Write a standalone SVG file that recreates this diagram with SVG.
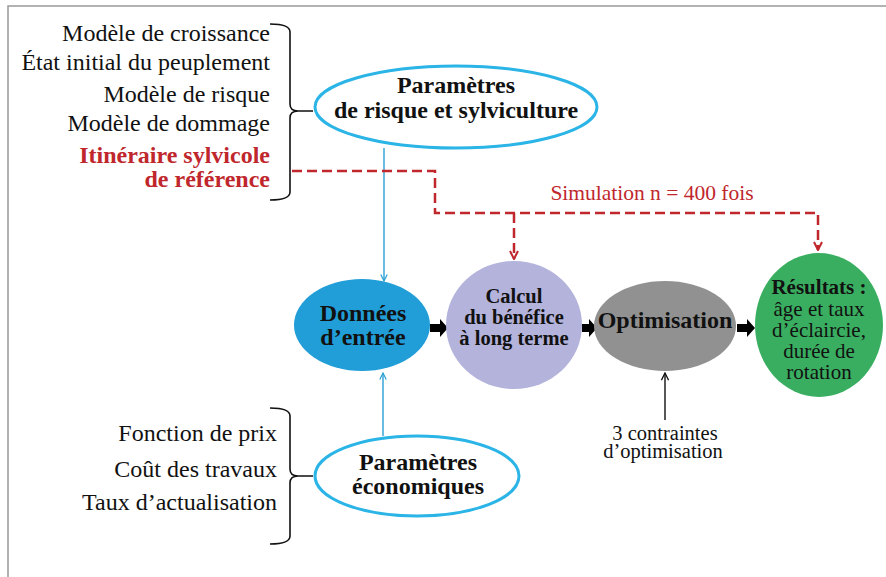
<svg xmlns="http://www.w3.org/2000/svg" width="886" height="577" viewBox="0 0 886 577">
<defs>
<style>
text{font-family:'Liberation Serif','Times New Roman',serif;fill:#111}
.lbl{font-size:24px;text-anchor:end}
.b{font-weight:bold;text-anchor:middle}
.m{text-anchor:middle}
.red{fill:#c0272d}
.brace{fill:none;stroke:#111;stroke-width:1.6}
.blue{stroke:#2a9fd6;stroke-width:1.4;fill:none}
.dash{stroke:#c0272d;stroke-width:2.5;fill:none;stroke-dasharray:10 5}
</style>
<marker id="ab" viewBox="0 0 10 10" refX="9" refY="5" markerWidth="8" markerHeight="8" orient="auto" markerUnits="userSpaceOnUse"><path d="M1,1 L9,5 L1,9" fill="none" stroke="#2a9fd6" stroke-width="1.5"/></marker>
<marker id="ar" viewBox="0 0 10 10" refX="9" refY="5" markerWidth="10" markerHeight="10" orient="auto" markerUnits="userSpaceOnUse"><path d="M1,1 L9,5 L1,9" fill="none" stroke="#c0272d" stroke-width="2"/></marker>
<marker id="ak" viewBox="0 0 10 10" refX="9" refY="5" markerWidth="9" markerHeight="9" orient="auto" markerUnits="userSpaceOnUse"><path d="M1,1 L9,5 L1,9" fill="none" stroke="#111" stroke-width="1.5"/></marker>
</defs>
<rect width="886" height="577" fill="#fff"/>
<path d="M8,600 L8,6 L900,6" fill="none" stroke="#999" stroke-width="1.5"/>

<g id="left-top-list">
<text class="lbl" x="270" y="41">Modèle de croissance</text>
<text class="lbl" x="270" y="70">État initial du peuplement</text>
<text class="lbl" x="270" y="102">Modèle de risque</text>
<text class="lbl" x="270" y="131">Modèle de dommage</text>
<text class="lbl red" x="270" y="163" font-weight="bold">Itinéraire sylvicole</text>
<text class="lbl red" x="270" y="187" font-weight="bold">de référence</text>
<path class="brace" d="M270,24 Q290,24 290,32 L290,104 Q290,111 298,111 L313,111 M298,111 Q290,111 290,118 L290,192 Q290,200 270,200"/>
</g>

<g id="left-bottom-list">
<text class="lbl" x="277" y="441">Fonction de prix</text>
<text class="lbl" x="277" y="477">Coût des travaux</text>
<text class="lbl" x="277" y="510">Taux d’actualisation</text>
<path class="brace" d="M270,408 Q290,408 290,416 L290,469 Q290,476 298,476 L313,476 M298,476 Q290,476 290,483 L290,536 Q290,544 270,544"/>
</g>

<g id="connectors">
<line class="blue" x1="384" y1="148" x2="384" y2="281" marker-end="url(#ab)"/>
<line class="blue" x1="383" y1="436" x2="383" y2="373" marker-end="url(#ab)"/>
<path class="dash" d="M292,171 L435,171 L435,213 L818,213 L818,250" marker-end="url(#ar)"/>
<path class="dash" d="M514,213 L514,259" marker-end="url(#ar)"/>
<line x1="665" y1="420" x2="665" y2="373" stroke="#111" stroke-width="1.4" marker-end="url(#ak)"/>
<polygon points="430,324 440,324 440,319 448,328 440,337 440,332 430,332" fill="#000"/>
<polygon points="582,324 589,324 589,319 597,328 589,337 589,332 582,332" fill="#000"/>
<polygon points="737,324 747,324 747,319 755,328 747,337 747,332 737,332" fill="#000"/>
<text x="652" y="200" font-size="21.5" class="red m">Simulation n = 400 fois</text>
<text x="665" y="440" font-size="20.5" class="m">3 contraintes</text>
<text x="663" y="458" font-size="20.5" class="m">d’optimisation</text>
</g>

<g id="param-risque">
<ellipse cx="456" cy="107" rx="141" ry="41" fill="#fff" stroke="#2bb4e6" stroke-width="3"/>
<text class="b" x="456" y="93" font-size="24">Paramètres</text>
<text class="b" x="456" y="118" font-size="24">de risque et sylviculture</text>
</g>

<g id="param-eco">
<ellipse cx="417" cy="476" rx="102" ry="40" fill="#fff" stroke="#2bb4e6" stroke-width="3"/>
<text class="b" x="418" y="470" font-size="24">Paramètres</text>
<text class="b" x="418" y="494" font-size="24">économiques</text>
</g>

<g id="donnees">
<ellipse cx="362" cy="325" rx="68" ry="46" fill="#219ed8"/>
<text class="b" x="363" y="321" font-size="24">Données</text>
<text class="b" x="363" y="345" font-size="24">d’entrée</text>
</g>

<g id="calcul">
<ellipse cx="514" cy="325" rx="68" ry="64" fill="#b3b3dc"/>
<text class="b" x="514" y="303" font-size="20.5">Calcul</text>
<text class="b" x="514" y="324" font-size="20.5">du bénéfice</text>
<text class="b" x="514" y="345" font-size="20.5">à long terme</text>
</g>

<g id="optimisation">
<ellipse cx="665" cy="326" rx="71" ry="45" fill="#919191"/>
<text class="b" x="665" y="328" font-size="24">Optimisation</text>
</g>

<g id="resultats">
<ellipse cx="819" cy="325" rx="64" ry="72" fill="#3aae60"/>
<text class="b" x="819" y="294" font-size="21">Résultats :</text>
<text x="819" y="316" font-size="21" class="m">âge et taux</text>
<text x="819" y="337" font-size="21" class="m">d’éclaircie,</text>
<text x="819" y="358" font-size="21" class="m">durée de</text>
<text x="819" y="379" font-size="21" class="m">rotation</text>
</g>
</svg>
